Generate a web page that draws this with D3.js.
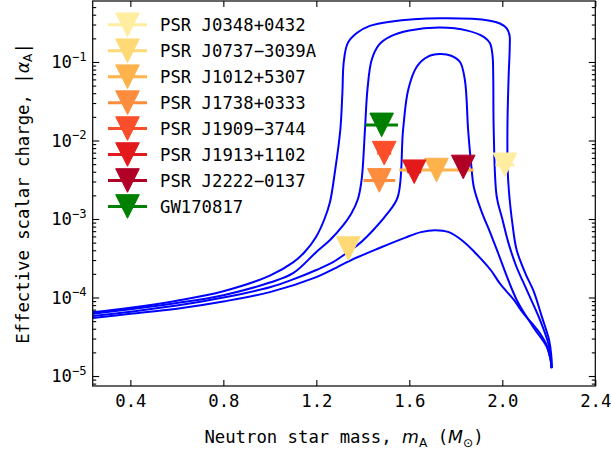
<!DOCTYPE html>
<html><head><meta charset="utf-8">
<script src="https://cdn.jsdelivr.net/npm/d3@7"></script>
<style>body{margin:0;background:#fff}svg{display:block}text{font-family:"DejaVu Sans Mono",monospace}</style>
</head><body><svg id="c" width="611" height="451"></svg>
<script>
// ---- data ----
const curve1Mass  = [0.238,0.4,0.6,0.8,1.0,1.1,1.15,1.2,1.235,1.259,1.28,1.303,1.312,1.318,1.335,1.374,1.43,1.517,1.732,1.947,1.99,2.019,2.031,2.032,2.027,2.022,2.025,2.047,2.062,2.10,2.135,2.17,2.201,2.211,2.212];
const curve1Alpha = [6.5e-5,7.4e-5,9.1e-5,1.2e-4,1.9e-4,2.8e-4,3.8e-4,6.0e-4,1.0e-3,1.66e-3,4.0e-3,1.35e-2,0.04,0.10,0.174,0.234,0.288,0.326,0.36,0.336,0.309,0.268,0.219,0.158,0.063,0.0136,3.16e-3,7.2e-4,4.0e-4,2.0e-4,1.2e-4,5.7e-5,2.9e-5,1.78e-5,1.26e-5];
const curve2Mass  = [0.238,0.4,0.6,0.8,1.0,1.1,1.2,1.259,1.315,1.35,1.379,1.395,1.409,1.42,1.438,1.47,1.517,1.6,1.732,1.85,1.92,1.947,1.958,1.961,1.963,1.976,2.0,2.026,2.06,2.105,2.162,2.198,2.21,2.212];
const curve2Alpha = [6.2e-5,7.1e-5,8.5e-5,1.07e-4,1.55e-4,2.04e-4,3.8e-4,5.4e-4,8.3e-4,1.17e-3,1.8e-3,3.2e-3,1.35e-2,0.045,0.106,0.166,0.21,0.251,0.274,0.251,0.209,0.173,0.12,0.063,0.0136,1.92e-3,1.0e-3,5.0e-4,2.5e-4,1.25e-4,5.2e-5,2.6e-5,1.66e-5,1.26e-5];
const curve3Mass  = [0.238,0.4,0.6,0.8,1.0,1.1,1.2,1.27,1.331,1.39,1.444,1.5,1.55,1.573,1.595,1.632,1.68,1.732,1.78,1.818,1.839,1.853,1.866,1.878,1.91,1.947,1.98,2.062,2.132,2.191,2.21,2.212];
const curve3Alpha = [5.8e-5,6.6e-5,7.9e-5,1.0e-4,1.35e-4,1.7e-4,2.24e-4,2.8e-4,3.7e-4,5.0e-4,7.2e-4,1.12e-3,1.9e-3,1.35e-2,0.044,0.087,0.117,0.126,0.12,0.10,0.059,0.0136,5.0e-3,2.5e-3,1.26e-3,6.8e-4,3.8e-4,9.3e-5,4.25e-5,2.36e-5,1.47e-5,1.26e-5];
const curve4Mass  = [0.238,0.4,0.6,0.8,1.0,1.2,1.26,1.35,1.474,1.58,1.65,1.711,1.77,1.83,1.88,1.95,1.99,2.05,2.09,2.13,2.162,2.19,2.205,2.212];
const curve4Alpha = [5.5e-5,6.2e-5,7.2e-5,8.9e-5,1.17e-4,1.82e-4,2.2e-4,3.0e-4,4.3e-4,5.75e-4,6.8e-4,7.2e-4,6.8e-4,5.25e-4,3.8e-4,2.24e-4,1.5e-4,9.3e-5,6.3e-5,4.6e-5,3.5e-5,2.5e-5,1.78e-5,1.26e-5];

const sourceNames  = ["PSR J0348+0432","PSR J0737\u22123039A","PSR J1012+5307","PSR J1738+0333","PSR J1909\u22123744","PSR J1913+1102","PSR J2222\u22120137","GW170817"];
const sourceMass   = [2.011,1.338,1.717,1.471,1.492,1.621,1.832,1.481];
const sourceMassErr= [0.04,0.001,0.16,0.068,0.03,0.03,0.01,0.07];
const sourceAlpha  = [4.9e-3,4.2e-4,4.2e-3,3.1e-3,6.9e-3,4.0e-3,4.6e-3,1.58e-2];
const sourceColors = ["#ffeda0","#fed976","#feb24c","#fd8d3c","#fc4e2a","#e31a1c","#b10026","#008000"];

const xTicks = [0.4,0.8,1.2,1.6,2.0,2.4];
const xTickLabels = ["0.4","0.8","1.2","1.6","2.0","2.4"];
const yTicks = [1e-5,1e-4,1e-3,1e-2,1e-1];
const yTickExps = ["\u22125","\u22124","\u22123","\u22122","\u22121"];

// ---- layout ----
const L=92.7,R=595.3,T=1,B=386, FS=17.3;
const svg = d3.select("#c");
const x = d3.scaleLinear().domain([0.238,2.4]).range([L,R]);
const y = d3.scaleLog().domain([7.46e-6,0.598]).range([B,T]);

const yMinor=[];
for(let d=-6; d<=0; d++) for(let k=2;k<=9;k++){const v=k*Math.pow(10,d); if(v>=y.domain()[0]&&v<=y.domain()[1]) yMinor.push(v);}

function styleAxis(g){
  g.select(".domain").remove();
  g.selectAll(".tick line").attr("stroke","#000").attr("stroke-width",1.1);
  g.attr("font-family",null).attr("font-size",null);
}
// bottom
svg.append("g").attr("transform",`translate(0,${B})`)
  .call(d3.axisBottom(x).tickValues(xTicks).tickFormat((d,i)=>xTickLabels[i]).tickSizeInner(-6).tickSizeOuter(0).tickPadding(8.3))
  .call(styleAxis)
  .call(g=>g.selectAll("text").attr("font-size",FS).attr("fill","#000"));
// top
svg.append("g").attr("transform",`translate(0,${T})`)
  .call(d3.axisTop(x).tickValues(xTicks).tickFormat("").tickSizeInner(-6).tickSizeOuter(0)).call(styleAxis);
// left major
svg.append("g").attr("transform",`translate(${L},0)`)
  .call(d3.axisLeft(y).tickValues(yTicks).tickFormat(()=> "10").tickSizeInner(-6.5).tickSizeOuter(0).tickPadding(6))
  .call(styleAxis)
  .call(g=>g.selectAll("text").each(function(d,i){
     const t=d3.select(this).text(null).attr("font-size",FS).attr("fill","#000").attr("dy","0.33em");
     t.append("tspan").text("10");
     t.append("tspan").attr("font-size",12.2).attr("dy",-7.5).text(yTickExps[i]);
  }));
svg.append("g").attr("transform",`translate(${L},0)`)
  .call(d3.axisLeft(y).tickValues(yMinor).tickFormat("").tickSizeInner(-3.5).tickSizeOuter(0)).call(styleAxis);
// right
svg.append("g").attr("transform",`translate(${R},0)`)
  .call(d3.axisRight(y).tickValues(yTicks).tickFormat("").tickSizeInner(-6.5).tickSizeOuter(0)).call(styleAxis);
svg.append("g").attr("transform",`translate(${R},0)`)
  .call(d3.axisRight(y).tickValues(yMinor).tickFormat("").tickSizeInner(-3.5).tickSizeOuter(0)).call(styleAxis);

// clip
svg.append("clipPath").attr("id","clip").append("rect").attr("x",L).attr("y",T).attr("width",R-L).attr("height",B-T);

// curves
const line = d3.line().x(d=>x(d[0])).y(d=>y(d[1])).curve(d3.curveCatmullRom.alpha(0.5));
const curves = [[curve1Mass,curve1Alpha],[curve2Mass,curve2Alpha],[curve3Mass,curve3Alpha],[curve4Mass,curve4Alpha]];
const cg = svg.append("g").attr("clip-path","url(#clip)");
curves.forEach(([m,a])=>{
  cg.append("path").datum(m.map((v,i)=>[v,a[i]])).attr("d",line)
    .attr("fill","none").attr("stroke","#0000ff").attr("stroke-width",2).attr("stroke-linejoin","round");
});

// markers
const H=11.8;
function tri(cx,cy){return `M${cx-H},${cy-H}L${cx+H},${cy-H}L${cx},${cy+H}Z`;}
const mg = svg.append("g");
sourceNames.forEach((n,i)=>{
  const cy=y(sourceAlpha[i]);
  mg.append("line").attr("x1",x(sourceMass[i]-sourceMassErr[i])).attr("x2",x(sourceMass[i]+sourceMassErr[i]))
    .attr("y1",cy).attr("y2",cy).attr("stroke",sourceColors[i]).attr("stroke-width",3);
  mg.append("path").attr("d",tri(x(sourceMass[i]),cy)).attr("fill",sourceColors[i]).attr("stroke",sourceColors[i]).attr("stroke-width",1);
});

// legend
const lg = svg.append("g");
sourceNames.forEach((n,i)=>{
  const cy=24.8+i*25.95, cx=127.5;
  lg.append("line").attr("x1",cx-19.5).attr("x2",cx+19.5).attr("y1",cy).attr("y2",cy).attr("stroke",sourceColors[i]).attr("stroke-width",3);
  lg.append("path").attr("d",tri(cx,cy)).attr("fill",sourceColors[i]).attr("stroke",sourceColors[i]).attr("stroke-width",1);
  lg.append("text").attr("x",160).attr("y",cy).attr("dy","0.36em").attr("font-size",FS).attr("fill","#000").text(n);
});

// frame
svg.append("rect").attr("x",L).attr("y",T).attr("width",R-L).attr("height",B-T).attr("fill","none").attr("stroke","#000").attr("stroke-width",1.2);

// axis labels
const xl = svg.append("text").attr("x",(L+R)/2).attr("y",443).attr("text-anchor","middle").attr("font-size",FS).attr("fill","#000");
xl.append("tspan").text("Neutron star mass, ");
xl.append("tspan").attr("font-family","DejaVu Sans").attr("font-style","italic").text("m");
xl.append("tspan").attr("font-family","DejaVu Sans").attr("font-size",12.2).attr("dy",3.5).text("A");
xl.append("tspan").attr("dy",-3.5).text(" (");
xl.append("tspan").attr("font-family","DejaVu Sans").attr("font-style","italic").text("M");
xl.append("tspan").attr("font-family","DejaVu Sans").attr("font-size",12.2).attr("dy",3.5).text("\u2299");
xl.append("tspan").attr("dy",-3.5).text(")");

const yl = svg.append("text").attr("transform",`translate(28.5,${(T+B)/2}) rotate(-90)`).attr("text-anchor","middle").attr("font-size",FS).attr("fill","#000");
yl.append("tspan").text("Effective scalar charge, |");
yl.append("tspan").attr("font-family","DejaVu Sans").attr("font-style","italic").text("\u03b1");
yl.append("tspan").attr("font-family","DejaVu Sans").attr("font-size",12.2).attr("dy",3.5).text("A");
yl.append("tspan").attr("dy",-3.5).text("|");
</script></body></html>
